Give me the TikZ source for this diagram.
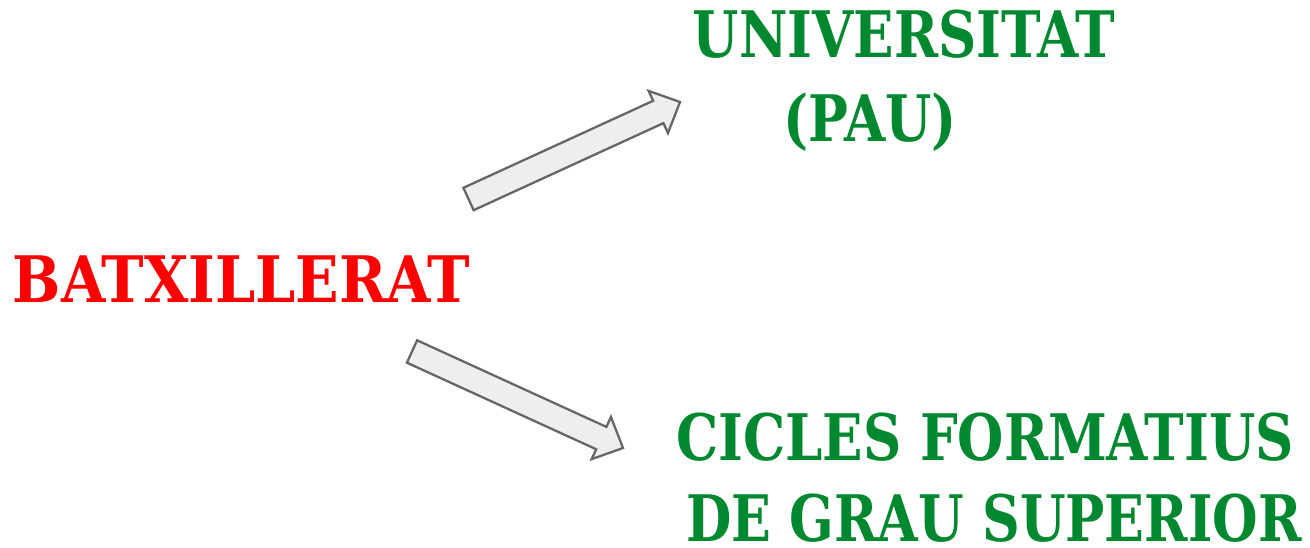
\documentclass[tikz,border=0pt]{standalone}
\usepackage{fontspec}
\setmainfont{DejaVu Serif Condensed}[BoldFont=* Bold]
\usetikzlibrary{calc}

\definecolor{batred}{RGB}{255,0,0}
\definecolor{outgreen}{RGB}{0,136,48}
\definecolor{arrowfill}{RGB}{238,238,238}
\definecolor{arrowline}{RGB}{102,102,102}

\tikzset{
  title/.style={font=\bfseries\fontsize{36.5}{47}\selectfont, inner sep=0pt, anchor=base},
  goal/.style={title, text=outgreen, xscale=0.92},
  blockarr/.style={draw=arrowline, fill=arrowfill, line width=1.3pt, line join=miter}
}

% block arrow from tail #1 to tip #2
\newcommand\blockarrow[2]{%
  \draw[blockarr]
    ($(#1)!7pt!90:(#2)$)
    -- ($(#2)!13.6pt!(#1)!7pt!-90:(#1)$)
    -- ($(#2)!13.6pt!(#1)!13.2pt!-90:(#1)$)
    -- (#2)
    -- ($(#2)!13.6pt!(#1)!13.2pt!90:(#1)$)
    -- ($(#2)!13.6pt!(#1)!7pt!90:(#1)$)
    -- ($(#1)!7pt!-90:(#2)$)
    -- cycle;}

\begin{document}
\begin{tikzpicture}[x=0.02cm, y=-0.02cm]
  \useasboundingbox (0,0) rectangle (1310,547);

  % Labels
  \node[title, text=batred, xscale=0.99] (bat) at (241.5,302) {BATXILLERAT};
  \node[goal] (uni)  at (904,58)    {UNIVERSITAT};
  \node[goal] (pau)  at (870,142)   {(PAU)};
  \node[goal] (cfgs) at (985,460)   {CICLES FORMATIUS};
  \node[goal, xscale=0.985] (grau) at (994,541) {DE GRAU SUPERIOR};

  % Arrow ends
  \coordinate (upTail)  at (468.5,199);
  \coordinate (upTip)   at (680,102);
  \coordinate (lowTail) at (412,351.5);
  \coordinate (lowTip)  at (623,448);

  % Arrows
  \blockarrow{upTail}{upTip}
  \blockarrow{lowTail}{lowTip}
\end{tikzpicture}
\end{document}
